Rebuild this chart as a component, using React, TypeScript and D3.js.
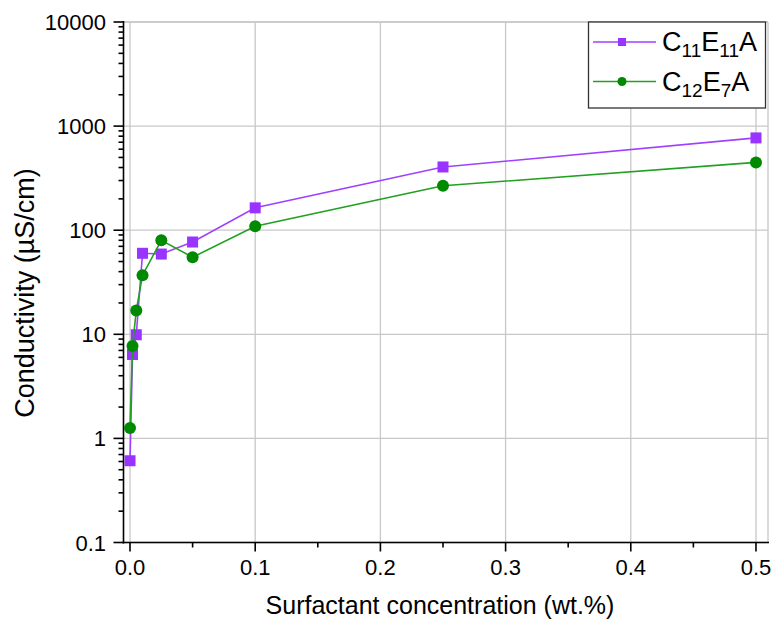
import React, { useEffect, useRef } from 'react';
import * as d3 from 'd3';

// surfactant concentration (wt.%) and conductivity (µS/cm)
const concC11 = [0, 0.002, 0.005, 0.01, 0.025, 0.05, 0.1, 0.25, 0.5];
const condC11 = [0.61, 6.4, 9.9, 60, 59, 77, 164, 405, 770];
const concC12 = [0, 0.002, 0.005, 0.01, 0.025, 0.05, 0.1, 0.25, 0.5];
const condC12 = [1.26, 7.7, 16.9, 37, 80, 55, 109, 267, 448];

const xTicks = [0, 0.1, 0.2, 0.3, 0.4, 0.5];
const xMinor = [0.05, 0.15, 0.25, 0.35, 0.45];
const yTicks = [0.1, 1, 10, 100, 1000, 10000];

const series = [
  { name: ['C', '11', 'E', '11', 'A'], x: concC11, y: condC11, line: '#a040ff', fill: '#9933ff', shape: 'square' },
  { name: ['C', '12', 'E', '7', 'A'], x: concC12, y: condC12, line: '#22a022', fill: '#008a00', shape: 'circle' },
];

const App = () => {
  const ref = useRef<SVGSVGElement>(null);

  useEffect(() => {
    const svg = d3.select(ref.current);
    svg.selectAll('*').remove();

    const left = 123.5, right = 768, top = 22, bottom = 542.5;
    const font = '"Liberation Sans", Arial, sans-serif';

    const x = d3.scaleLinear().domain([-0.0052, 0.5096]).range([left, right]);
    const y = d3.scaleLog().domain([0.1, 10000]).range([bottom, top]);

    // grid
    const grid = svg.append('g').attr('stroke', '#c8c8c8').attr('stroke-width', 1.3);
    grid.selectAll('line.gx').data(xTicks).join('line')
      .attr('x1', d => x(d)).attr('x2', d => x(d)).attr('y1', top).attr('y2', bottom);
    grid.selectAll('line.gy').data(yTicks).join('line')
      .attr('x1', left).attr('x2', right).attr('y1', d => y(d)).attr('y2', d => y(d));
    // top & right frame
    grid.append('line').attr('x1', left).attr('x2', right).attr('y1', top).attr('y2', top);
    grid.append('line').attr('x1', right).attr('x2', right).attr('y1', top).attr('y2', bottom);

    // axes
    const ax = svg.append('g').attr('stroke', '#000').attr('stroke-width', 1.6);
    ax.append('line').attr('x1', left).attr('x2', left).attr('y1', top - 1).attr('y2', bottom + 1);
    ax.append('line').attr('x1', left - 1).attr('x2', right + 1).attr('y1', bottom).attr('y2', bottom);

    ax.selectAll('line.xt').data(xTicks).join('line')
      .attr('x1', d => x(d)).attr('x2', d => x(d)).attr('y1', bottom).attr('y2', bottom + 9);
    ax.selectAll('line.xm').data(xMinor).join('line')
      .attr('class', 'xm')
      .attr('x1', d => x(d)).attr('x2', d => x(d)).attr('y1', bottom).attr('y2', bottom + 5);

    ax.selectAll('line.yt').data(yTicks).join('line')
      .attr('class', 'yt')
      .attr('x1', left - 10).attr('x2', left).attr('y1', d => y(d)).attr('y2', d => y(d));
    const yMinor: number[] = [];
    yTicks.slice(0, -1).forEach(t => d3.range(2, 10).forEach(k => yMinor.push(t * k)));
    ax.selectAll('line.ym').data(yMinor).join('line')
      .attr('class', 'ym')
      .attr('x1', left - 5).attr('x2', left).attr('y1', d => y(d)).attr('y2', d => y(d));

    // tick labels
    svg.append('g').style('font', `22px ${font}`).attr('text-anchor', 'middle')
      .selectAll('text').data(xTicks).join('text')
      .attr('x', d => x(d)).attr('y', 575)
      .text(d => d.toFixed(1));
    svg.append('g').style('font', `22px ${font}`).attr('text-anchor', 'end')
      .selectAll('text').data(yTicks).join('text')
      .attr('x', 106).attr('y', d => y(d) + 8)
      .text(d => String(d));

    // titles
    svg.append('text').attr('x', 440).attr('y', 614).attr('text-anchor', 'middle')
      .style('font', `25px ${font}`).text('Surfactant concentration (wt.%)');
    svg.append('text').attr('transform', `translate(34,293) rotate(-90)`)
      .attr('text-anchor', 'middle').style('font', `27px ${font}`).text('Conductivity (\u00b5S/cm)');

    // series
    const line = d3.line<[number, number]>().x(d => x(d[0])).y(d => y(d[1]));
    series.forEach(s => {
      const pts: [number, number][] = s.x.map((v, i) => [v, s.y[i]]);
      const g = svg.append('g');
      g.append('path').attr('d', line(pts)).attr('fill', 'none')
        .attr('stroke', s.line).attr('stroke-width', 1.6);
      if (s.shape === 'square') {
        g.selectAll('rect').data(pts).join('rect')
          .attr('x', d => x(d[0]) - 5.5).attr('y', d => y(d[1]) - 5.5)
          .attr('width', 11).attr('height', 11).attr('fill', s.fill);
      } else {
        g.selectAll('circle').data(pts).join('circle')
          .attr('cx', d => x(d[0])).attr('cy', d => y(d[1])).attr('r', 6).attr('fill', s.fill);
      }
    });

    // legend
    const lg = svg.append('g');
    lg.append('rect').attr('x', 588.5).attr('y', 22).attr('width', 177).attr('height', 86)
      .attr('fill', '#fff').attr('stroke', '#333').attr('stroke-width', 1.3);
    series.forEach((s, i) => {
      const ly = 42 + i * 39.5;
      lg.append('line').attr('x1', 593).attr('x2', 656).attr('y1', ly).attr('y2', ly)
        .attr('stroke', s.line).attr('stroke-width', 1.6);
      if (s.shape === 'square') {
        lg.append('rect').attr('x', 618).attr('y', ly - 4).attr('width', 8).attr('height', 8).attr('fill', s.fill);
      } else {
        lg.append('circle').attr('cx', 622).attr('cy', ly).attr('r', 4.5).attr('fill', s.fill);
      }
      const t = lg.append('text').attr('x', 662).attr('y', ly + 9).style('font', `27px ${font}`);
      s.name.forEach((part, k) => {
        const sub = k % 2 === 1;
        t.append('tspan').attr('font-size', sub ? 19 : 27)
          .attr('dy', sub ? 6 : (k === 0 ? 0 : -6)).text(part);
      });
    });
  }, []);

  return (
    <svg ref={ref} width={773} height={621}
      style={{ position: 'absolute', left: 0, top: 0, background: '#fff' }} />
  );
};

export default App;
